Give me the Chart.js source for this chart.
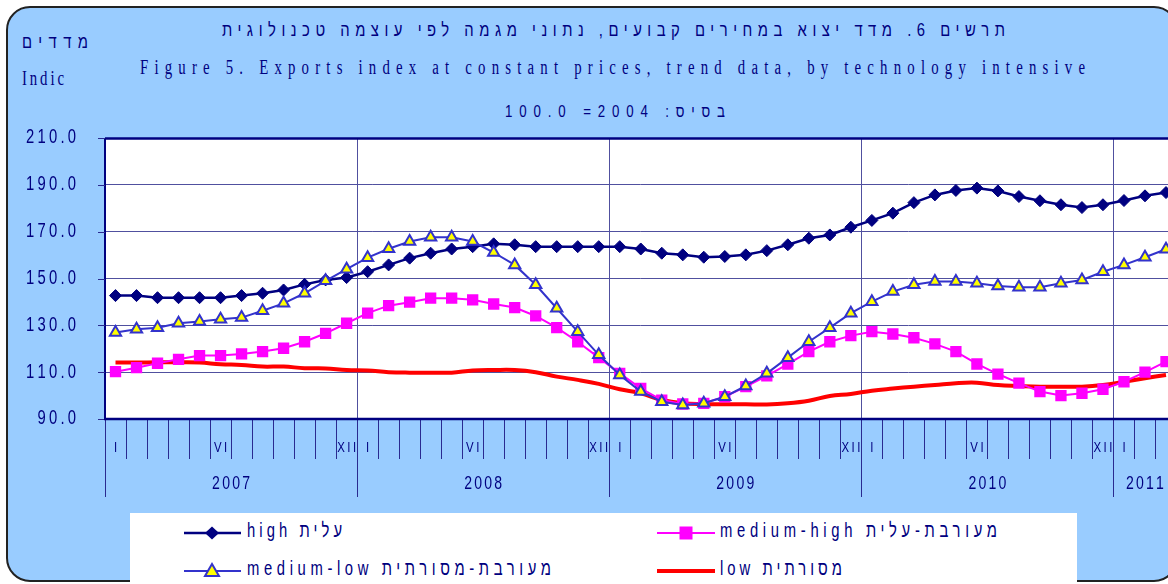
<!DOCTYPE html>
<html>
<head>
<meta charset="utf-8">
<script src="https://cdn.jsdelivr.net/npm/chart.js@4.4.0/dist/chart.umd.min.js"></script>
<style>
  html, body { margin: 0; padding: 0; width: 1168px; height: 584px; overflow: hidden; background: #fff; }
  #frame { position: absolute; left: 6px; top: 6px; width: 1168px; height: 572px; border: 2px solid #222; border-radius: 24px; background: #99ccff; }
  #wrap { position: absolute; left: 0; top: 0; width: 1200px; height: 584px; }
  #chart { display: block; width: 1185px; height: 584px; }
  .t { position: absolute; color: #000080; white-space: nowrap; line-height: 1; display: inline-block; }
  .sans { font-family: "Liberation Sans", Arimo, "DejaVu Sans", sans-serif; }
  .serif { font-family: "Liberation Serif", "DejaVu Serif", serif; }
  #legend { position: absolute; left: 130px; top: 513px; width: 947px; height: 80px; background: #fff; }
  #legend svg { position: absolute; left: 0; top: 0; }
</style>
</head>
<body>
<div id="frame"></div>

<div class="t sans" dir="rtl" data-fit="222,1005,0.78" style="top:20px; font-size:19px;">תרשים 6. מדד יצוא במחירים קבועים, נתוני מגמה לפי עוצמה טכנולוגית</div>
<div class="t serif" data-fit="140,1085,0.74" style="top:57px; font-size:20px;">Figure 5. Exports index at constant prices, trend data, by technology intensive</div>
<div class="t sans" dir="rtl" data-fit="505,725,0.78" style="top:103px; font-size:17px;">בסיס: 2004= 100.0</div>
<div class="t sans" dir="rtl" data-fit="22,88,0.78" style="top:32px; font-size:19px;">מדדים</div>
<div class="t serif" data-fit="22,64,0.74" style="top:68px; font-size:20px;">Indic</div>

<div id="wrap"><canvas id="chart" width="1185" height="584"></canvas></div>

<div id="legend">
  <svg width="947" height="80">
    <line x1="54" y1="20" x2="111" y2="20" stroke="#000080" stroke-width="2.5"/>
    <polygon points="82,13.5 89,20 82,26.5 75,20" fill="#000080"/>
    <line x1="527" y1="20" x2="585" y2="20" stroke="#ff00ff" stroke-width="2"/>
    <rect x="549.5" y="13.5" width="13" height="13" fill="#ff00ff"/>
    <line x1="54" y1="58" x2="111" y2="58" stroke="#3333cc" stroke-width="2"/>
    <polygon points="82,51 89,63 75,63" fill="#ffff00" stroke="#3333cc" stroke-width="2"/>
    <line x1="527" y1="58" x2="585" y2="58" stroke="#ff0000" stroke-width="4"/>
  </svg>
</div>
<div class="t sans" data-fit="247,342,0.74" style="top:520px; font-size:20px;">high עלית</div>
<div class="t sans" data-fit="720,997,0.74" style="top:520px; font-size:20px;">medium-high מעורבת-עלית</div>
<div class="t sans" data-fit="247,551,0.74" style="top:558px; font-size:20px;">medium-low מעורבת-מסורתית</div>
<div class="t sans" data-fit="720,842,0.74" style="top:558px; font-size:20px;">low מסורתית</div>

<script>
const SANS = '"Liberation Sans", Arimo, "DejaVu Sans", sans-serif';
const NAVY = "#000080";
const GRID = "#50509f";
const TICK = "#2a2a90";

// months, Jan 2007 .. Mar 2011
const months = [
  "2007-01", "2007-02", "2007-03", "2007-04", "2007-05", "2007-06", "2007-07", "2007-08", "2007-09", "2007-10", "2007-11", "2007-12",
  "2008-01", "2008-02", "2008-03", "2008-04", "2008-05", "2008-06", "2008-07", "2008-08", "2008-09", "2008-10", "2008-11", "2008-12",
  "2009-01", "2009-02", "2009-03", "2009-04", "2009-05", "2009-06", "2009-07", "2009-08", "2009-09", "2009-10", "2009-11", "2009-12",
  "2010-01", "2010-02", "2010-03", "2010-04", "2010-05", "2010-06", "2010-07", "2010-08", "2010-09", "2010-10", "2010-11", "2010-12",
  "2011-01", "2011-02", "2011-03"
];
const years = ["2007", "2008", "2009", "2010", "2011"];
const monthMarks = ["I", "", "", "", "", "VI", "", "", "", "", "", "XII"];
const yTicks = [90, 110, 130, 150, 170, 190, 210];

// index values (2004 = 100)
const high = [
  142.7, 142.7, 141.8, 141.8, 141.8, 141.8, 142.7, 143.7, 145.1, 147.5, 149.4, 150.4,
  152.9, 155.8, 158.7, 160.8, 162.6, 163.6, 164.8, 164.4, 163.6, 163.6, 163.6, 163.6,
  163.6, 162.6, 160.8, 160.1, 159.1, 159.4, 160.1, 161.9, 164.4, 167.2, 168.6, 171.9,
  174.8, 177.9, 182.4, 185.7, 187.6, 188.6, 187.4, 185.0, 183.2, 181.5, 180.3, 181.5,
  183.3, 185.3, 186.7
];
const mediumHigh = [
  110.2, 111.9, 113.8, 115.5, 117.1, 117.1, 117.8, 118.8, 120.2, 123.0, 126.6, 130.9,
  135.2, 138.4, 139.9, 141.6, 141.6, 140.9, 139.1, 137.6, 134.0, 129.0, 123.0, 116.2,
  109.5, 103.1, 98.1, 96.4, 96.7, 99.5, 103.8, 108.4, 113.4, 118.8, 123.0, 125.6,
  127.3, 126.3, 124.7, 122.1, 118.8, 113.5, 109.2, 105.3, 101.7, 100.0, 101.0, 102.7,
  105.9, 110.0, 114.5
];
const mediumLow = [
  126.9, 128.3, 129.0, 130.9, 131.6, 132.6, 133.3, 136.2, 139.4, 143.7, 149.0, 154.0,
  158.9, 162.7, 165.8, 167.6, 167.6, 165.8, 161.1, 155.8, 147.3, 137.3, 127.3, 117.4,
  108.8, 101.7, 97.4, 96.0, 96.7, 99.5, 104.1, 109.5, 116.2, 123.0, 129.0, 135.2,
  140.1, 144.4, 147.3, 148.7, 148.7, 148.0, 146.8, 146.3, 146.3, 148.0, 149.4, 152.9,
  155.8, 159.1, 162.5
];
const low = [
  114.1, 114.1, 114.2, 114.2, 114.1, 113.4, 113.1, 112.4, 112.4, 111.7, 111.6, 110.9,
  110.7, 110.0, 109.8, 109.8, 109.8, 110.7, 110.9, 110.9, 110.0, 108.1, 106.7, 105.0,
  102.7, 101.0, 98.1, 96.7, 96.4, 96.3, 96.3, 96.2, 96.7, 97.8, 99.8, 100.7,
  102.1, 103.0, 103.8, 104.5, 105.3, 105.5, 104.5, 104.1, 103.8, 103.8, 103.8, 104.5,
  105.9, 107.4, 108.8
];

// squeeze + spread html labels so they span [left, right] like the narrow original font
document.querySelectorAll("[data-fit]").forEach(el => {
  const [left, right, sx] = el.dataset.fit.split(",").map(Number);
  const w = el.getBoundingClientRect().width;
  const n = [...el.textContent].length;
  const ls = ((right - left) / sx - w) / (n - 1);
  el.style.letterSpacing = ls + "px";
  el.style.left = left + "px";
  el.style.transformOrigin = "0 50%";
  el.style.transform = "scaleX(" + sx + ")";
});

// narrow, letter-spaced canvas text
function spacedText(ctx, text, x, y, align, sx, spacing) {
  const chars = [...text];
  const widths = chars.map(c => ctx.measureText(c).width * sx);
  const total = widths.reduce((s, w) => s + w, 0) + spacing * (chars.length - 1);
  let cx = align === "right" ? x - total : align === "center" ? x - total / 2 : x;
  chars.forEach((c, i) => {
    ctx.save();
    ctx.translate(cx, y);
    ctx.scale(sx, 1);
    ctx.fillText(c, 0, 0);
    ctx.restore();
    cx += widths[i] + spacing;
  });
}

function boundaryX(x, i) {
  const n = months.length;
  const step = x.getPixelForValue(1) - x.getPixelForValue(0);
  return i < n ? x.getPixelForValue(i) - step / 2 : x.getPixelForValue(n - 1) + step / 2;
}

function line(ctx, x1, y1, x2, y2) {
  ctx.beginPath();
  ctx.moveTo(x1, y1);
  ctx.lineTo(x2, y2);
  ctx.stroke();
}

// plot background, year lines, borders and the two-level month/year axis
const axisPlugin = {
  id: "axisPlugin",
  beforeDraw(chart) {
    const { ctx, chartArea: a } = chart;
    ctx.save();
    ctx.fillStyle = "#fff";
    ctx.fillRect(a.left, a.top, a.right - a.left, a.bottom - a.top);
    ctx.restore();
  },
  beforeDatasetsDraw(chart) {
    const { ctx, chartArea: a, scales: { x } } = chart;
    ctx.save();
    ctx.strokeStyle = GRID;
    ctx.lineWidth = 1;
    for (let i = 12; i < months.length; i += 12) {
      const px = Math.round(boundaryX(x, i)) + 0.5;
      line(ctx, px, a.top, px, a.bottom);
    }
    ctx.strokeStyle = NAVY;
    ctx.lineWidth = 2.5;
    line(ctx, a.left, a.top + 0.5, a.right, a.top + 0.5);
    ctx.lineWidth = 2;
    line(ctx, a.left, a.top, a.left, a.bottom);
    ctx.restore();
  },
  afterDraw(chart) {
    const { ctx, chartArea: a, scales: { x, y } } = chart;
    ctx.save();
    ctx.strokeStyle = TICK;
    ctx.lineWidth = 1;
    for (let i = 0; i <= months.length; i++) {
      const px = Math.round(boundaryX(x, i)) + 0.5;
      line(ctx, px, a.bottom, px, a.bottom + (i % 12 === 0 ? 78 : 40));
    }
    yTicks.forEach(v => {
      const py = Math.round(y.getPixelForValue(v)) + 0.5;
      line(ctx, a.left - 7, py, a.left, py);
    });
    ctx.strokeStyle = NAVY;
    ctx.lineWidth = 2.5;
    line(ctx, a.left - 1, a.bottom, a.right, a.bottom);

    ctx.fillStyle = NAVY;
    ctx.textAlign = "left";
    ctx.textBaseline = "middle";

    ctx.font = "19.5px " + SANS;
    yTicks.forEach(v => {
      spacedText(ctx, v.toFixed(1), 76, y.getPixelForValue(v), "right", 0.76, 3.2);
    });

    ctx.font = "15px " + SANS;
    months.forEach((m, i) => {
      const mark = monthMarks[parseInt(m.slice(5), 10) - 1];
      if (mark) spacedText(ctx, mark, x.getPixelForValue(i), a.bottom + 29, "center", 0.76, 2.5);
    });

    ctx.font = "18.5px " + SANS;
    years.forEach(yr => {
      const idx = months.map((m, i) => (m.startsWith(yr) ? i : -1)).filter(i => i >= 0);
      const cx = (x.getPixelForValue(idx[0]) + x.getPixelForValue(idx[idx.length - 1])) / 2;
      spacedText(ctx, yr, cx, a.bottom + 65, "center", 0.76, 2.2);
    });
    ctx.restore();
  }
};

new Chart(document.getElementById("chart"), {
  type: "line",
  data: {
    labels: months,
    datasets: [
      {
        label: "medium-low מעורבת-מסורתית",
        data: mediumLow,
        borderColor: "#3333cc",
        borderWidth: 2,
        pointStyle: "triangle",
        pointRadius: 6.5,
        pointBackgroundColor: "#ffff00",
        pointBorderColor: "#3333cc",
        pointBorderWidth: 2,
        tension: 0
      },
      {
        label: "high עלית",
        data: high,
        borderColor: NAVY,
        borderWidth: 2.5,
        pointStyle: "rectRot",
        pointRadius: 6,
        pointBackgroundColor: NAVY,
        pointBorderColor: NAVY,
        pointBorderWidth: 1,
        tension: 0
      },
      {
        label: "medium-high מעורבת-עלית",
        data: mediumHigh,
        borderColor: "#ff00ff",
        borderWidth: 2,
        pointStyle: "rect",
        pointRadius: 8,
        pointBackgroundColor: "#ff00ff",
        pointBorderColor: "#ff00ff",
        pointBorderWidth: 0,
        tension: 0
      },
      {
        label: "low מסורתית",
        data: low,
        borderColor: "#ff0000",
        borderWidth: 4,
        pointRadius: 0,
        tension: 0.4
      }
    ]
  },
  options: {
    responsive: false,
    animation: false,
    events: [],
    layout: { padding: { top: 138, left: 0, right: 0, bottom: 0 } },
    plugins: { legend: { display: false }, tooltip: { enabled: false } },
    scales: {
      x: {
        type: "category",
        offset: true,
        grid: { display: false },
        border: { display: false },
        ticks: { display: false },
        afterFit: s => { s.height = 165; }
      },
      y: {
        min: 90,
        max: 210,
        afterBuildTicks: s => { s.ticks = yTicks.map(v => ({ value: v })); },
        grid: { color: GRID, lineWidth: 1, drawTicks: false },
        border: { display: false },
        ticks: { display: false },
        afterFit: s => { s.width = 105; }
      }
    }
  },
  plugins: [axisPlugin]
});
</script>
</body>
</html>
